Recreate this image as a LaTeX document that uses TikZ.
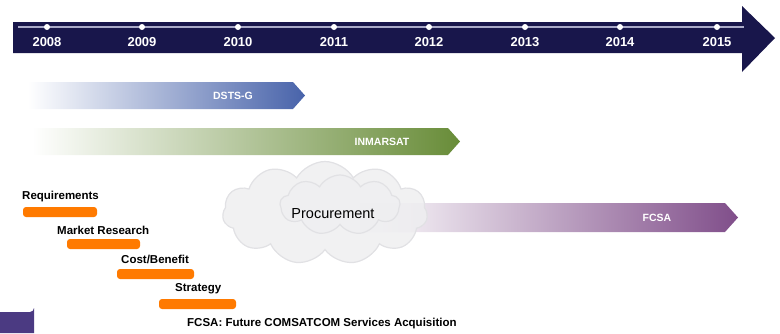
\documentclass[tikz,border=0pt]{standalone}
\usepackage{fontspec}
\setmainfont{Liberation Sans}
\usetikzlibrary{shapes.symbols,shadings}
\definecolor{navy}{RGB}{24,22,75}
\definecolor{tickline}{RGB}{170,170,200}
\definecolor{dstsblue}{RGB}{72,99,170}
\definecolor{inmgreen}{RGB}{104,140,56}
\definecolor{fcsapurple}{RGB}{128,78,138}
\definecolor{stepor}{RGB}{255,122,0}
\definecolor{boxpurple}{RGB}{75,58,130}
\definecolor{cloudfill}{RGB}{238,238,240}
\definecolor{cloudedge}{RGB}{225,225,228}
\tikzset{
  yearlbl/.style={text=white,font=\bfseries\fontsize{13}{13}\selectfont,inner sep=0pt},
  yeardot/.style={circle,fill=white,inner sep=0pt,minimum size=6pt},
  barlbl/.style={text=white,font=\bfseries\fontsize{10.5}{11}\selectfont,inner sep=0pt},
  steplbl/.style={text=black,font=\bfseries\fontsize{11.5}{12}\selectfont,inner sep=0pt,anchor=west},
  puff/.style={cloud,cloud puffs=11,cloud puff arc=120,aspect=2,fill=cloudfill,draw=cloudedge,line width=1.2pt,fill opacity=0.85},
}
\begin{document}
\begin{tikzpicture}[x=1pt,y=-1pt]
\useasboundingbox (0,0) rectangle (780,333);
% timeline arrow
\fill[navy] (13,22) -- (742,22) -- (742,6) -- (775,38) -- (742,72) -- (742,53) -- (13,53) -- cycle;
\coordinate (tlstart) at (18,27);
\coordinate (tlend) at (744,27);
\draw[tickline,line width=1.2pt] (tlstart) -- (tlend);
\foreach \yr/\xx in {2008/47,2009/142,2010/238,2011/334,2012/429,2013/525,2014/620,2015/717}{
  \node[yeardot] (d\yr) at (\xx,27) {};
  \node[yearlbl] (y\yr) at (\xx,42) {\yr};
}
% DSTS-G bar
\shade[left color=white,right color=dstsblue]
  (28,82) -- (293,82) -- (305,95.5) -- (293,109) -- (28,109) -- cycle;
\node[barlbl] (dsts) at (233,96) {DSTS-G};
% INMARSAT bar
\shade[left color=white,right color=inmgreen]
  (32,128) -- (448,128) -- (460,141.5) -- (448,155) -- (32,155) -- cycle;
\node[barlbl] (inm) at (382,142) {INMARSAT};
% FCSA bar
\shade[left color=white,right color=fcsapurple]
  (360,203) -- (725,203) -- (738,217.5) -- (725,232) -- (360,232) -- cycle;
\node[barlbl] (fcsa) at (657,218) {FCSA};
% cloud
\node[puff,minimum width=205pt,minimum height=103pt] (cloud) at (325,213) {};
\node[puff,cloud puffs=9,minimum width=120pt,minimum height=60pt,fill opacity=0.5] (cloudin) at (340,205) {};
\node[font=\fontsize{14.5}{15}\selectfont,inner sep=0pt] (proc) at (333,214) {Procurement};
% steps
\fill[stepor,rounded corners=3pt] (23,207) rectangle (97,217);
\node[steplbl] (req) at (22,197) {Requirements};
\fill[stepor,rounded corners=3pt] (67,239) rectangle (140,249);
\node[steplbl] (mr) at (57,230) {Market Research};
\fill[stepor,rounded corners=3pt] (117,269) rectangle (194,279);
\node[steplbl] (cb) at (121,259) {Cost/Benefit};
\fill[stepor,rounded corners=3pt] (159,299) rectangle (236,309);
\node[steplbl] (str) at (175,289) {Strategy};
% footnote
\node[steplbl] (foot) at (187,324) {FCSA: Future COMSATCOM Services Acquisition};
% purple box
\fill[boxpurple] (0,312) -- (30,312) arc (90:0:4) -- (34,333) -- (0,333) -- cycle;
\end{tikzpicture}
\end{document}
